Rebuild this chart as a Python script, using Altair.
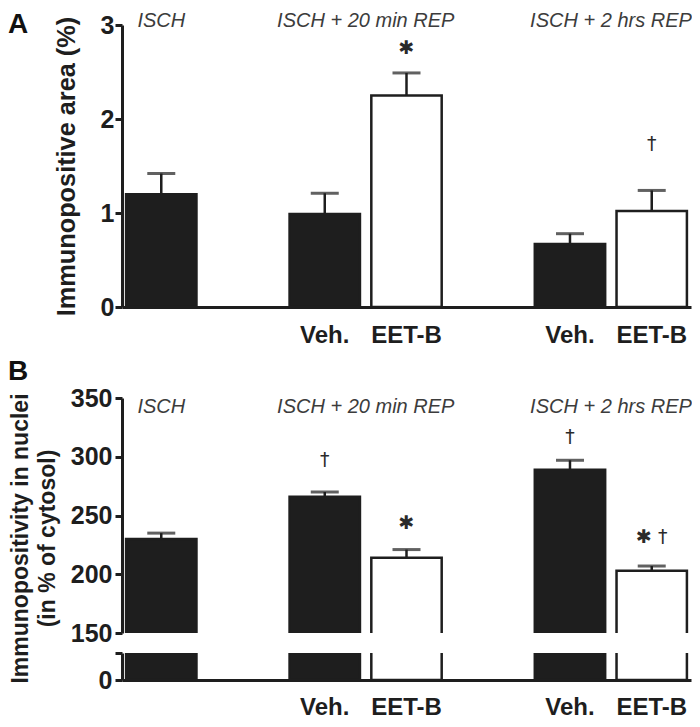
import altair as alt
import pandas as pd

# ---------------- data ----------------
slots = ["ISCH", "gap1", "V20", "E20", "gap2", "V2", "E2"]
slot_text = ["", "", "Veh.", "EET-B", "", "Veh.", "EET-B"]

bar_slots = ["ISCH", "V20", "E20", "V2", "E2"]
bar_kind = ["Vehicle", "Vehicle", "EET-B", "Vehicle", "EET-B"]

a_mean = [1.20, 0.99, 2.25, 0.67, 1.02]
a_err = [0.22, 0.22, 0.24, 0.11, 0.22]

b_mean = [230, 266, 214, 289, 203]
b_err = [5, 4, 7, 8, 4]

group_titles = ["ISCH", "ISCH + 20 min REP", "ISCH + 2 hrs REP"]
group_slots = ["ISCH", "V20", "V2"]

a_sig_slots = ["E20", "E2"]
a_sig_text = ["✱", "†"]
a_sig_y = [2.76, 1.73]

b_sig_slots = ["V20", "E20", "V2", "E2"]
b_sig_text = ["†", "✱", "†", "✱ †"]
b_sig_y = [297, 244, 317, 232]

a_ticks = [0, 1, 2, 3]
b_ticks = [150, 200, 250, 300, 350]
b_low_ticks = [0, 25]

# ---------------- tables ----------------
dfA = pd.DataFrame({"slot": bar_slots, "kind": bar_kind, "mean": a_mean, "err": a_err})
dfB = pd.DataFrame({"slot": bar_slots, "kind": bar_kind, "mean": b_mean, "err": b_err})
dfG = pd.DataFrame({"slot": group_slots, "title": group_titles})
dfSA = pd.DataFrame({"slot": a_sig_slots, "sym": a_sig_text, "y": a_sig_y})
dfSB = pd.DataFrame({"slot": b_sig_slots, "sym": b_sig_text, "y": b_sig_y})

INK = "#1e1e1e"
FONT = "Liberation Sans"
W = 569
HA, HB, HL = 282, 235, 27
GAP_AB, GAP_BL = 91, 20

parts = [f"datum.value === '{s}' ? '{t}'" for s, t in zip(slots, slot_text) if t]
label_expr = " : ".join(parts) + " : ''"

xscale = alt.Scale(domain=slots, paddingInner=0.139, paddingOuter=0.05)
fill_scale = alt.Scale(domain=["Vehicle", "EET-B"], range=[INK, "white"])


def xaxis_labels(pad):
    return alt.Axis(labelExpr=label_expr, ticks=False, tickSize=0, labelPadding=pad,
                    labelFontSize=24, labelAngle=0, domain=True, title=None)


def X(axis):
    return alt.X("slot:N", scale=xscale, axis=axis, title=None)


def panel(df, dfS, dom, yaxis, xaxis, height, letter, letter_y, group_y, with_err=True,
          with_text=True, break_mark=False, top_guard=False):
    ysc = alt.Scale(domain=dom, zero=False, nice=False)
    Y = lambda f: alt.Y(f, scale=ysc, axis=yaxis, title=None)
    base = alt.Chart(df).transform_calculate(top="datum.mean + datum.err")
    layers = [
        base.mark_bar(stroke=INK, strokeWidth=2.5, clip=True).encode(
            x=X(xaxis), y=Y("mean:Q"), y2=alt.datum(0),
            fill=alt.Fill("kind:N", scale=fill_scale, legend=None),
        )
    ]
    if with_err:
        layers.append(base.mark_rule(color=INK, strokeWidth=2.5, clip=True).encode(
            x=X(xaxis), y=Y("mean:Q"), y2="top:Q"))
        layers.append(base.mark_tick(color=INK, size=28, thickness=3, clip=True).encode(
            x=X(xaxis), y=Y("top:Q")))
    if with_text:
        g0 = alt.Chart(dfG.iloc[:1]).mark_text(font=FONT, fontStyle="italic", fontSize=20,
                                               color="#3c3c3c", baseline="alphabetic")
        g1 = alt.Chart(dfG.iloc[1:]).mark_text(font=FONT, fontStyle="italic", fontSize=20,
                                               color="#3c3c3c", baseline="alphabetic", dx=41)
        layers.append(g0.encode(x=X(xaxis), y=alt.value(group_y), text="title:N"))
        layers.append(g1.encode(x=X(xaxis), y=alt.value(group_y), text="title:N"))
        layers.append(alt.Chart(dfS).mark_text(font="DejaVu Sans", fontSize=19, color="#2a2a2a",
                                               baseline="middle").encode(
            x=X(xaxis), y=Y("y:Q"), text="sym:N"))
    if break_mark:
        layers.append(alt.Chart(pd.DataFrame({"t": [0]})).mark_rule(
            color=INK, strokeWidth=2).encode(
            x=alt.value(5), y=alt.value(0), y2=alt.value(height)))
    if top_guard:
        # invisible spacer so that top texts are not flush with the page edge
        layers.append(alt.Chart(pd.DataFrame({"t": [0]})).mark_rule(
            opacity=0, strokeWidth=1).encode(
            x=alt.value(200), x2=alt.value(210), y=alt.value(-17)))
    if letter:
        layers.append(alt.Chart(pd.DataFrame({"t": [letter]})).mark_text(
            font=FONT, fontWeight="bold", fontSize=28, color="#111", align="left",
            baseline="alphabetic").encode(x=alt.value(-114), y=alt.value(letter_y), text="t:N"))
    return alt.layer(*layers).properties(width=W, height=height)


yaxisA = alt.Axis(values=a_ticks, title="Immunopositive area (%)", titleX=-43, titleY=HA / 2,
                  titleAngle=270, titleAlign="center", titleBaseline="bottom", labelPadding=1,
                  titleFontSize=25.3)
yaxisB = alt.Axis(values=b_ticks, title=["Immunopositivity in nuclei", "(in % of cytosol)"],
                  titleX=-90, titleY=140, titleAngle=270, titleAlign="center",
                  titleBaseline="bottom", titleLineHeight=27, labelPadding=3, titleFontSize=23)
yaxisL = alt.Axis(values=b_low_ticks, labelExpr="datum.value == 0 ? '0' : ''", title=None,
                  labelPadding=3)

A = panel(dfA, dfSA, [0, 3], yaxisA, xaxis_labels(16), HA, "A", 8, 2, top_guard=True)
Bu = panel(dfB, dfSB, [150, 350], yaxisB, None, HB, "B", -18, 15)
Bl = panel(dfB, dfSB, [0, 25], yaxisL, xaxis_labels(15), HL, None, 0, 0, with_err=False,
           with_text=False, break_mark=True)

chart = alt.vconcat(
    A,
    alt.vconcat(Bu, Bl, spacing=GAP_BL, bounds="flush"),
    spacing=GAP_AB, bounds="flush",
).properties(padding=0).configure_view(stroke=None).configure_axis(
    labelFont=FONT, labelFontWeight="bold", labelFontSize=25, labelColor=INK,
    titleFont=FONT, titleFontWeight="bold", titleFontSize=24, titleColor=INK,
    domainColor=INK, domainWidth=3, tickColor=INK, tickWidth=3, tickSize=7, grid=False,
)

chart.save("out.html", embed_options={"renderer": "svg", "actions": False})
